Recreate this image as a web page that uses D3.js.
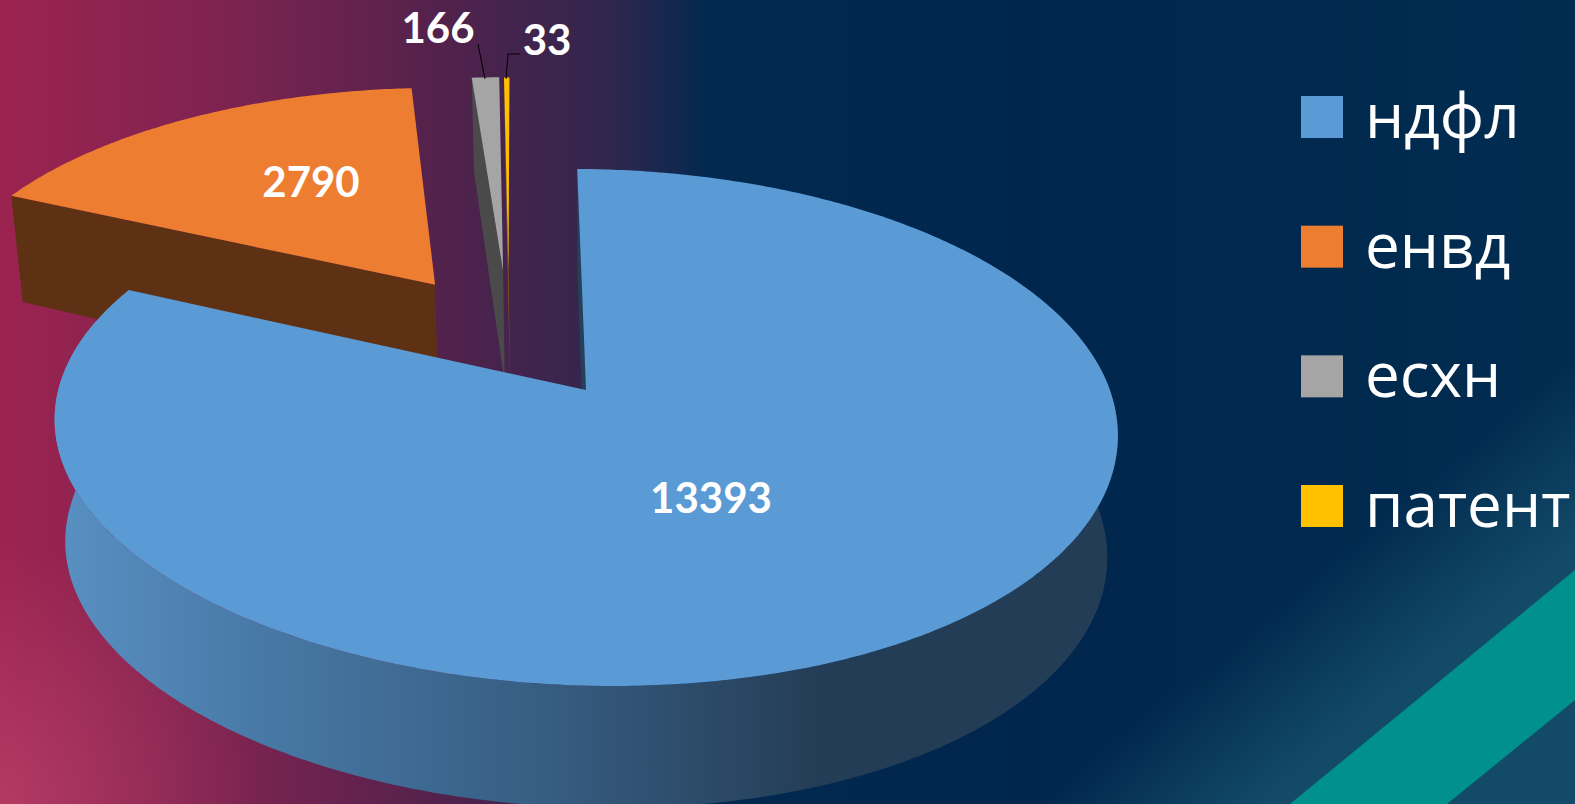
<!DOCTYPE html>
<html>
<head>
  <meta charset="utf-8">
  <script src="https://d3js.org/d3.v7.min.js"></script>
  <style>
    html, body { margin: 0; padding: 0; background: #012a50; overflow: hidden; }
    svg { display: block; }
    text { font-family: "Open Sans", sans-serif; fill: #fff; }
    text.value { font-family: Lato, "Open Sans", sans-serif; }
  </style>
</head>

<body>
  <div id="chart"></div>

  <script>

  var categories = ["ндфл", "енвд", "есхн", "патент"];
  var values = [13393, 2790, 166, 33];

  var topColors = ["#5b9bd5", "#ed7d31", "#a5a5a5", "#ffc000"];
  var sideColors = ["#25415a", "#5f3114", "#4a4a4a", "#8a6410"];

  var width = 1575,
      height = 804;

  // pie plane to screen: unit circle, tilted, with some perspective
  var cx = 586,
      cy = 390,
      kx = 526,
      ky = 253,
      persp = 0.145,
      tilt = 6.4,   // right side sits a bit lower than the left
      bend = 12,    // near half leans to the right
      taper = 0.02;

  // how far each slice is pulled out, in pie radii
  var explode = [[0, 0], [-0.305, -0.435], [-0.169, -0.5], [-0.158, -0.5]];

  var labelPos = [[711, 513], [311, 197], [438, 43], [547, 55]];

  var svg = d3.select("#chart").append("svg")
    .attr("width", width)
    .attr("height", height);

  var defs = svg.append("defs");

  function addGradient(id, attrs, stops) {
    var g = defs.append("linearGradient").attr("id", id).attr("gradientUnits", "userSpaceOnUse");
    Object.keys(attrs).forEach(function(k) { g.attr(k, attrs[k]); });
    stops.forEach(function(s) {
      g.append("stop").attr("offset", s[0]).attr("stop-color", s[1]).attr("stop-opacity", s[2] === undefined ? 1 : s[2]);
    });
  }

  addGradient("bg", {x1: 0, y1: 0, x2: 1575, y2: 0}, [
    [0, "#9c2350"], [0.15, "#7c2350"], [0.28, "#52224c"], [0.39, "#2f264e"], [0.45, "#02294f"], [0.65, "#01264d"], [1, "#012c50"]
  ]);
  addGradient("glow", {x1: 1190, y1: 675, x2: 1283, y2: 787}, [
    [0, "#134a68", 0], [1, "#134a68", 1]
  ]);
  addGradient("wall", {x1: 60, y1: 0, x2: 820, y2: 0}, [
    [0, "#5890c2"], [0.3, "#4676a2"], [0.65, "#365c80"], [1, "#243d56"]
  ]);

  var corner = defs.append("radialGradient").attr("id", "corner")
    .attr("gradientUnits", "userSpaceOnUse")
    .attr("cx", 0).attr("cy", 804).attr("r", 260);
  corner.append("stop").attr("offset", 0).attr("stop-color", "#d0567a").attr("stop-opacity", 0.45);
  corner.append("stop").attr("offset", 1).attr("stop-color", "#d0567a").attr("stop-opacity", 0);

  // background
  svg.append("rect").attr("width", width).attr("height", height).attr("fill", "url(#bg)");
  svg.append("rect").attr("width", width).attr("height", height).attr("fill", "url(#corner)");
  svg.append("rect").attr("width", width).attr("height", height).attr("fill", "url(#glow)");
  svg.append("polygon")
    .attr("points", "1290,804 1575,570 1575,700 1447,804")
    .attr("fill", "#00918d");

  var pie = d3.pie().sort(null)
    .startAngle(-1.1 * Math.PI / 180)
    .endAngle((360 - 1.1) * Math.PI / 180);

  var arcs = pie(values);

  // x,y on the pie plane, lower = bottom rim of the disc
  function project(x, y, lower) {
    var d = 1 - persp * y,
        near = Math.max(y, 0),
        sx = cx + (kx * x + bend * near * near) / d,
        sy = cy + (ky * y + tilt * x) / d;
    if (lower) {
      sx = cx + (sx - cx) * (1 - taper);
      sy = sy + 122 - 130 * Math.max(d - 1, 0);
    }
    return [sx, sy];
  }

  function rim(i, a, lower) {
    return project(explode[i][0] + Math.sin(a), explode[i][1] - Math.cos(a), lower);
  }

  function apex(i, lower) {
    return project(explode[i][0], explode[i][1], lower);
  }

  function sweep(a0, a1) {
    var n = Math.max(2, Math.ceil((a1 - a0) / 0.01));
    return d3.range(n + 1).map(function(j) { return a0 + (a1 - a0) * j / n; });
  }

  var line = d3.line();

  function topFace(d, i) {
    return line([apex(i)].concat(sweep(d.startAngle, d.endAngle).map(function(a) { return rim(i, a); }))) + "Z";
  }

  // flat wall along the edge where the slice starts
  function edgeWall(i, a) {
    return line([apex(i), rim(i, a), rim(i, a, true), apex(i, true)]) + "Z";
  }

  function outerWall(i, a0, a1) {
    var angles = sweep(a0, a1);
    var up = angles.map(function(a) { return rim(i, a); });
    var down = angles.slice().reverse().map(function(a) { return rim(i, a, true); });
    return line(up.concat(down)) + "Z";
  }

  // far slices first, the big one goes on top of them
  var order = [1, 2, 3, 0];

  var slices = svg.selectAll("g.slice")
    .data(order)
    .enter()
    .append("g")
    .attr("class", "slice");

  slices.append("path")
    .attr("d", function(i) { return edgeWall(i, arcs[i].startAngle); })
    .attr("fill", function(i) { return sideColors[i]; });

  slices.filter(function(i) { return i === 0; })
    .append("path")
    .attr("d", function(i) { return outerWall(i, 70 * Math.PI / 180, 285 * Math.PI / 180); })
    .attr("fill", "url(#wall)");

  slices.append("path")
    .attr("d", function(i) { return topFace(arcs[i], i); })
    .attr("fill", function(i) { return topColors[i]; });

  // leader lines for the two thin slices
  var leaders = [
    [[478, 44], [485, 79]],
    [[520, 54], [508, 54], [506, 79]]
  ];

  svg.selectAll("path.leader")
    .data(leaders)
    .enter()
    .append("path")
    .attr("class", "leader")
    .attr("d", function(d) { return line(d); })
    .attr("fill", "none")
    .attr("stroke", "#000")
    .attr("stroke-width", 1);

  svg.selectAll("text.value")
    .data(values)
    .enter()
    .append("text")
    .attr("class", "value")
    .attr("x", function(d, i) { return labelPos[i][0]; })
    .attr("y", function(d, i) { return labelPos[i][1]; })
    .attr("text-anchor", "middle")
    .style("font-size", "42px")
    .style("font-weight", 700)
    .text(function(d) { return d; });

  // legend
  var legendY = d3.scalePoint()
    .domain(categories)
    .range([117, 506]);

  var legend = svg.selectAll("g.legend")
    .data(categories)
    .enter()
    .append("g")
    .attr("class", "legend")
    .attr("transform", function(d) { return "translate(1301," + legendY(d) + ")"; });

  legend.append("rect")
    .attr("y", -21)
    .attr("width", 42)
    .attr("height", 42)
    .attr("fill", function(d, i) { return topColors[i]; });

  legend.append("text")
    .attr("x", 64)
    .attr("y", 21)
    .style("font-size", "62px")
    .text(function(d) { return d; });

  </script>

</body>

</html>
